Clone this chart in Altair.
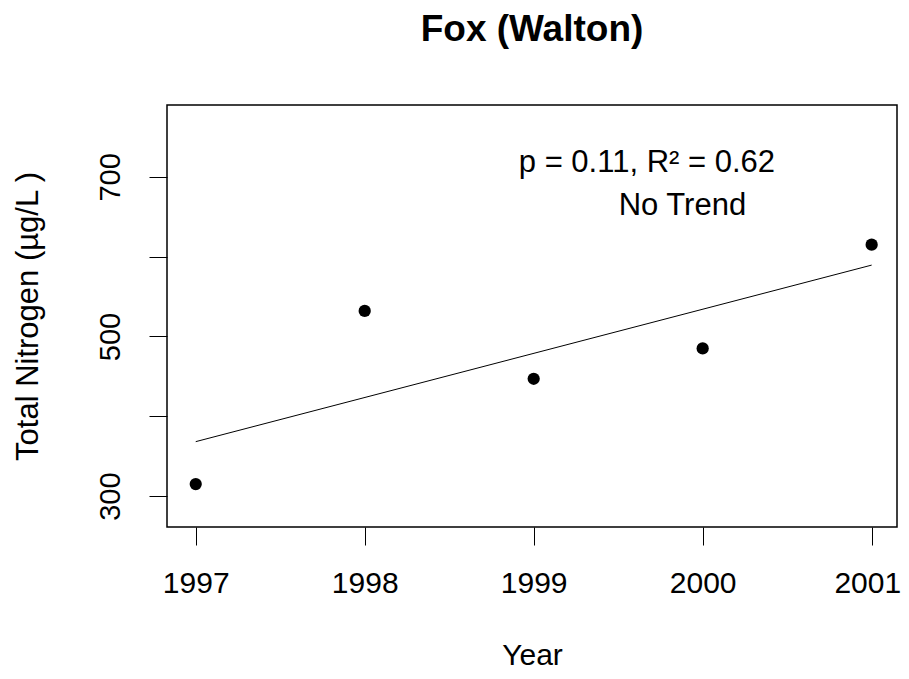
import altair as alt
import pandas as pd

years = [1997, 1998, 1999, 2000, 2001]
tn = [315, 532, 447, 485, 615]

ann_text = ["p = 0.11, R\u00b2 = 0.62", "No Trend"]
ann_x = [1999.67, 1999.88]
ann_y = [717, 663]

df = pd.DataFrame({"year": years, "tn": tn})
ann = pd.DataFrame({"t": ann_text, "x": ann_x, "y": ann_y})

FONT = "Liberation Sans"

xscale = alt.Scale(domain=[1996.83, 2001.15], nice=False, zero=False)
yscale = alt.Scale(domain=[261.25, 790], nice=False, zero=False)

xaxis = alt.Axis(values=years, format="d", title="Year", grid=False, domain=False,
                 tickSize=18, tickColor="black", labelFontSize=30, labelFont=FONT,
                 labelColor="black", labelPadding=23,
                 labelAlign={"condition": {"test": "datum.value == 2001", "value": "right"},
                             "value": "center"},
                 labelOffset={"condition": {"test": "datum.value == 2001", "value": 29},
                              "value": 0},
                 titleFontSize=30, titleFont=FONT,
                 titleFontWeight="normal", titleColor="black", titlePadding=42)
yaxis = alt.Axis(values=[300, 400, 500, 600, 700],
                 labelExpr="datum.value % 200 == 100 ? datum.label : ''",
                 title="Total Nitrogen (\u00b5g/L )", grid=False, domain=False,
                 tickSize=18, tickColor="black", labelFontSize=29, labelFont=FONT,
                 labelColor="black", labelAngle=-90, labelAlign="center",
                 labelBaseline="bottom", labelPadding=24,
                 titleFontSize=31, titleFont=FONT, titleFontWeight="normal",
                 titleColor="black", titlePadding=52)

base = alt.Chart(df)

points = base.mark_point(filled=True, color="black", size=150, opacity=1).encode(
    x=alt.X("year:Q", scale=xscale, axis=xaxis),
    y=alt.Y("tn:Q", scale=yscale, axis=yaxis),
)

line = base.transform_regression("year", "tn", extent=[1997, 2001]).mark_line(
    color="black", strokeWidth=1
).encode(x=alt.X("year:Q", scale=xscale), y=alt.Y("tn:Q", scale=yscale))

text = alt.Chart(ann).mark_text(font=FONT, fontSize=31, color="black").encode(
    x=alt.X("x:Q", scale=xscale), y=alt.Y("y:Q", scale=yscale), text="t:N"
)

chart = alt.layer(line, points, text).properties(
    width=730, height=422,
    title=alt.TitleParams("Fox (Walton)", font=FONT, fontSize=37, fontWeight="bold",
                          color="black", anchor="middle", offset=56),
    autosize=alt.AutoSizeParams(type="none"),
    padding={"left": 159, "top": 97, "right": 4, "bottom": 144},
    background="white",
).configure_view(stroke="black", strokeWidth=1.5)

chart.save("out.html", embed_options={"renderer": "svg", "actions": False})
